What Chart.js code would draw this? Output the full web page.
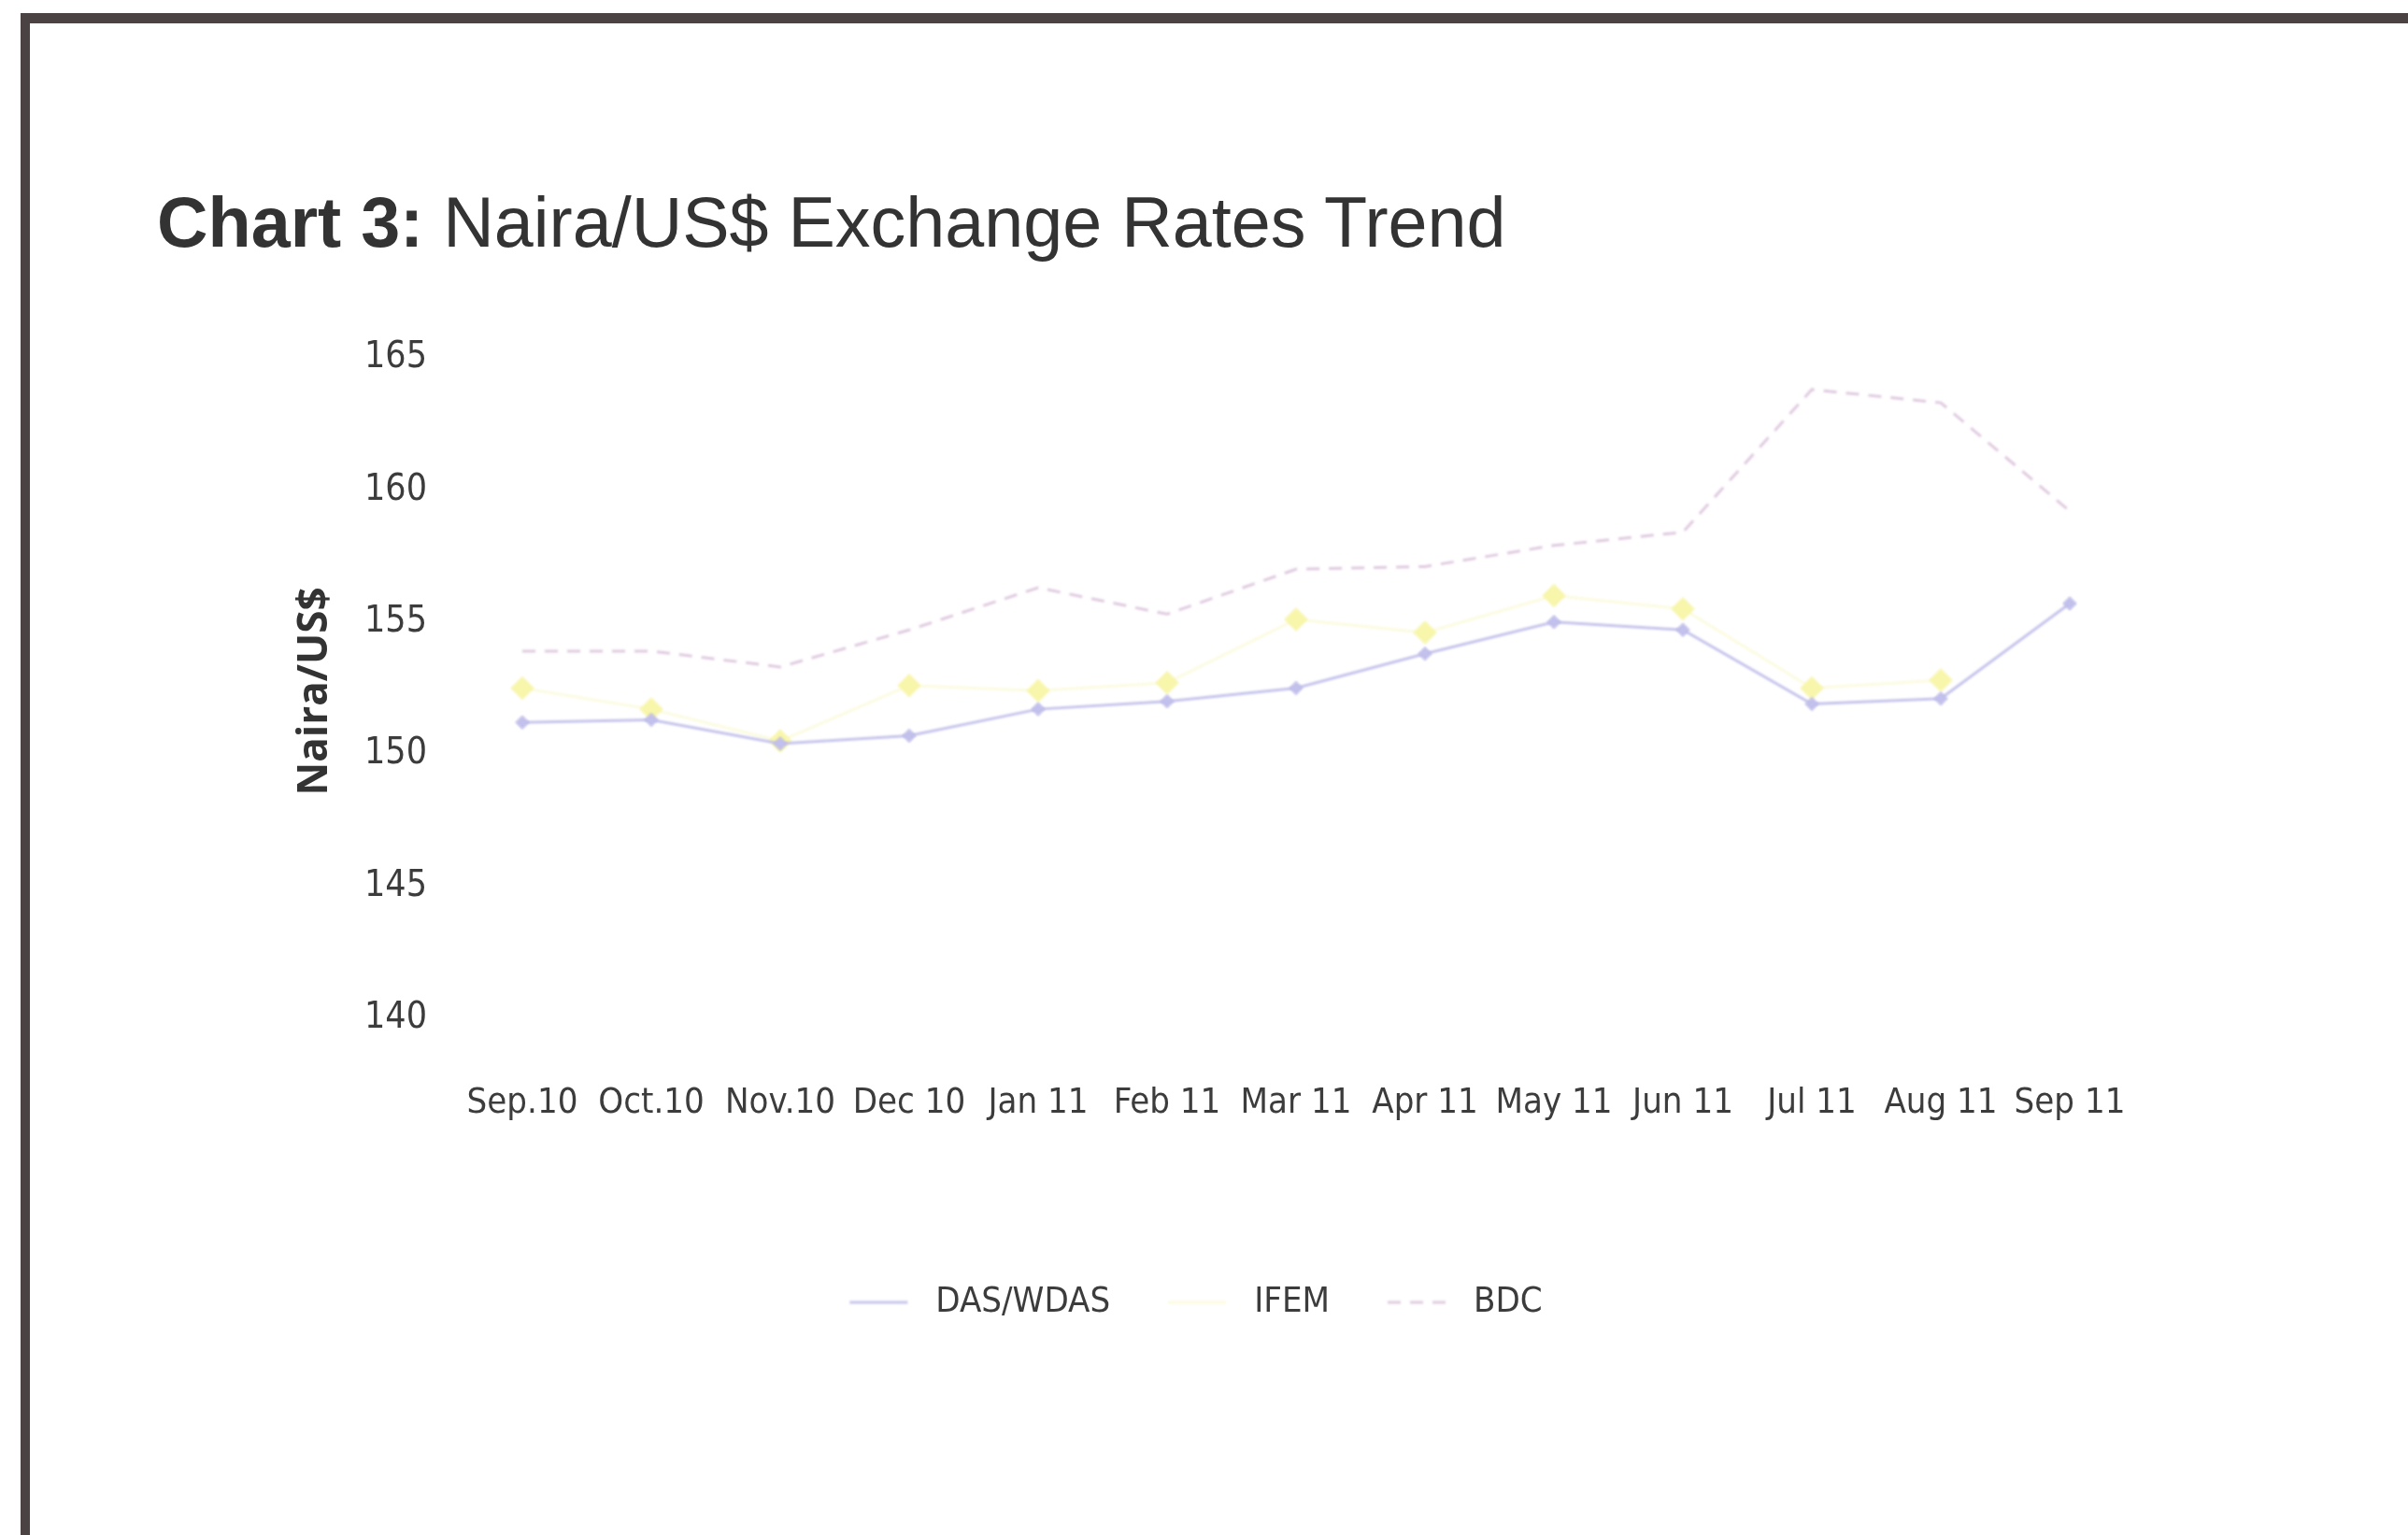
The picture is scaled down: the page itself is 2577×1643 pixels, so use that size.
<!DOCTYPE html>
<html>
<head>
<meta charset="utf-8">
<title>Naira/US$ Exchange Rates Trend</title>
<script src="https://cdn.jsdelivr.net/npm/chart.js@4.4.1/dist/chart.umd.min.js"></script>
<style>
  html, body { margin: 0; padding: 0; background: #fff; }
  #wrap { position: relative; width: 2577px; height: 1643px; overflow: hidden; background: #fff; }
  #frame {
    position: absolute; left: 22px; top: 14px; right: -30px; bottom: -30px;
    border-left: 10px solid #4b4343; border-top: 11px solid #4b4343;
  }
  #title {
    position: absolute; left: 168px; top: 201px;
    font-family: 'Liberation Sans', Arial, sans-serif; font-size: 75.5px; line-height: 1;
    color: #333; white-space: nowrap;
  }
  #title b { font-weight: bold; }
  canvas { position: absolute; left: 0; top: 0; }
</style>
</head>
<body>
<div id="wrap">
  <div id="frame"></div>
  <div id="title"><b>Chart 3:</b> Naira/US$ Exchange Rates Trend</div>
  <canvas id="fx" width="2577" height="1643"></canvas>
</div>
<script>
// Monthly average Naira/US$ rates, Sep 2010 – Sep 2011
const months = ['Sep.10', 'Oct.10', 'Nov.10', 'Dec 10', 'Jan 11', 'Feb 11', 'Mar 11',
                'Apr 11', 'May 11', 'Jun 11', 'Jul 11', 'Aug 11', 'Sep 11'];
const dasWdas = [151.2, 151.3, 150.4, 150.7, 151.7, 152.0, 152.5, 153.8, 155.0, 154.7, 151.9, 152.1, 155.7];
const ifem    = [152.5, 151.7, 150.5, 152.6, 152.4, 152.7, 155.1, 154.6, 156.0, 155.5, 152.5, 152.8, null];
const bdc     = [153.9, 153.9, 153.3, 154.7, 156.3, 155.3, 157.0, 157.1, 157.9, 158.4, 163.8, 163.3, 159.2];
const yMin = 140, yMax = 165, yStep = 5;
const seriesNames = ['DAS/WDAS', 'IFEM', 'BDC'];

const narrow = "'DejaVu Sans Condensed', 'Liberation Sans Narrow', sans-serif";
const textColor = '#3c3c3c';

// Axis title and legend, drawn on the chart canvas
const decor = {
  id: 'decor',
  beforeDatasetsDraw(chart) {
    chart.ctx.save();
    chart.ctx.filter = 'blur(1.3px)';
  },
  afterDatasetsDraw(chart) {
    chart.ctx.restore();
  },
  afterDraw(chart) {
    const ctx = chart.ctx;
    // y-axis title
    ctx.save();
    ctx.translate(337, 740);
    ctx.rotate(-Math.PI / 2);
    ctx.font = "bold 44px 'Open Sans', 'DejaVu Sans', sans-serif";
    ctx.fillStyle = '#333';
    ctx.textAlign = 'center';
    ctx.textBaseline = 'middle';
    ctx.fillText('Naira/US$', 0, 0);
    ctx.restore();

    // legend
    ctx.save();
    ctx.font = '38px ' + narrow;
    const symW = 62, gap = 30, spacing = 62, cy = 1394, cx = 1280;
    const items = chart.data.datasets.map(ds => ({ ds, w: ctx.measureText(ds.label).width }));
    let total = spacing * (items.length - 1);
    items.forEach(it => { total += symW + gap + it.w; });
    let x = cx - total / 2;
    ctx.textBaseline = 'middle';
    ctx.textAlign = 'left';
    items.forEach(it => {
      const ds = it.ds;
      ctx.save();
      ctx.filter = 'blur(1px)';
      ctx.strokeStyle = ds.borderColor;
      ctx.lineWidth = ds.borderWidth;
      ctx.setLineDash(ds.borderDash || []);
      ctx.beginPath();
      ctx.moveTo(x, cy);
      ctx.lineTo(x + symW, cy);
      ctx.stroke();
      ctx.restore();
      ctx.fillStyle = textColor;
      ctx.fillText(ds.label, x + symW + gap, cy);
      x += symW + gap + it.w + spacing;
    });
    ctx.restore();
  }
};

new Chart(document.getElementById('fx'), {
  type: 'line',
  data: {
    labels: months,
    datasets: [
      {
        label: seriesNames[0], data: dasWdas,
        borderColor: '#c6c4ec', borderWidth: 3,
        pointStyle: 'rectRot', pointRadius: 7,
        pointBackgroundColor: '#c2c0ec', pointBorderColor: '#b5b2e4', pointBorderWidth: 1,
        tension: 0
      },
      {
        label: seriesNames[1], data: ifem,
        borderColor: 'rgba(252,251,222,0.9)', borderWidth: 3,
        pointStyle: 'rectRot', pointRadius: 12,
        pointBackgroundColor: '#f8f6aa', pointBorderColor: '#f6f4a0', pointBorderWidth: 1,
        tension: 0
      },
      {
        label: seriesNames[2], data: bdc,
        borderColor: '#e0cbe0', borderWidth: 3, borderDash: [14, 10],
        pointRadius: 0,
        tension: 0
      }
    ]
  },
  options: {
    responsive: false,
    animation: false,
    devicePixelRatio: 1,
    layout: { padding: { left: 0, right: 293, top: 383, bottom: 0 } },
    plugins: { legend: { display: false }, tooltip: { enabled: false }, title: { display: false } },
    scales: {
      x: {
        type: 'category',
        offset: true,
        grid: { display: false },
        border: { display: false },
        ticks: {
          color: textColor, font: { family: narrow, size: 38 },
          padding: 60, maxRotation: 0, minRotation: 0, autoSkip: false
        },
        afterFit(scale) { scale.height = 553; }
      },
      y: {
        min: yMin, max: yMax,
        grid: { display: false },
        border: { display: false },
        ticks: {
          stepSize: yStep, color: textColor, font: { family: narrow, size: 39 }, padding: 25
        },
        afterFit(scale) { scale.width = 490; }
      }
    }
  },
  plugins: [decor]
});
</script>
</body>
</html>
